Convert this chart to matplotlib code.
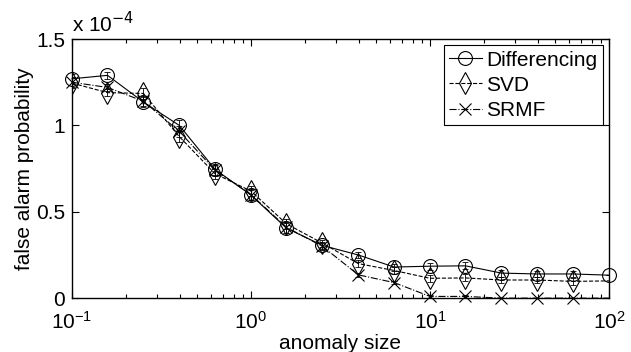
import matplotlib
matplotlib.use("Agg")
import matplotlib.pyplot as plt
from matplotlib.ticker import FixedLocator, FixedFormatter, LogLocator, NullFormatter

plt.rcParams['font.family'] = ['Liberation Sans', 'DejaVu Sans']

# anomaly sizes
x = [0.1, 0.158, 0.251, 0.398, 0.631, 1.0, 1.58, 2.51, 3.98, 6.31,
     10.0, 15.8, 25.1, 39.8, 63.1, 100.0]
# false alarm probability, in units of 1e-4
diff = [1.27, 1.29, 1.135, 1.0, 0.745, 0.597, 0.405, 0.305, 0.25, 0.18,
        0.185, 0.187, 0.145, 0.14, 0.14, 0.133]
svd = [1.245, 1.19, 1.185, 0.935, 0.72, 0.62, 0.43, 0.318, 0.20, 0.16,
       0.115, 0.117, 0.105, 0.105, 0.097, 0.10]
srmf = [1.25, 1.22, 1.14, 0.965, 0.74, 0.60, 0.41, 0.30, 0.135, 0.09,
        0.01, 0.01, 0.0, 0.0, 0.0, 0.0]
err_diff = [0.03, 0.02, 0.03, 0.03, 0.03, 0.03, 0.03, 0.02, 0.02, 0.02,
            0.02, 0.02, 0.02, 0.02, 0.02, 0.0]
err_svd = [0.03, 0.02, 0.03, 0.03, 0.03, 0.03, 0.03, 0.02, 0.02, 0.02,
           0.02, 0.02, 0.02, 0.02, 0.02, 0.0]
err_srmf = [0.03, 0.02, 0.03, 0.03, 0.03, 0.03, 0.03, 0.02, 0.01, 0.01,
            0.01, 0.01, 0.0, 0.0, 0.0, 0.0]

ytick_vals = [0, 0.5, 1, 1.5]
ytick_labels = ['0', '0.5', '1', '1.5']

fig = plt.figure(figsize=(6.31, 3.52), dpi=100)
ax = fig.add_axes([0.114, 0.153, 0.851, 0.736])

lw = 0.8
ax.errorbar(x, diff, yerr=err_diff, fmt='none', ecolor='k', elinewidth=0.6,
            capsize=2.5, capthick=0.6, zorder=2)
ax.errorbar(x[:-1], svd[:-1], yerr=err_svd[:-1], fmt='none', ecolor='k',
            elinewidth=0.6, capsize=2.5, capthick=0.6, zorder=2)
ax.errorbar(x[:-1], srmf[:-1], yerr=err_srmf[:-1], fmt='none', ecolor='k',
            elinewidth=0.6, capsize=2.5, capthick=0.6, zorder=2)

ax.plot(x, diff, color='k', ls='-', lw=lw, marker='o', ms=10,
        mfc='none', mec='k', mew=0.8, label='Differencing', clip_on=False, zorder=3)
ax.plot(x, svd, color='k', ls='--', lw=lw, marker='d', ms=11,
        mfc='none', mec='k', mew=0.8, label='SVD', zorder=3,
        markevery=list(range(len(x) - 1)))
ax.plot(x, srmf, color='k', ls='-.', lw=lw, marker='x', ms=8,
        mfc='none', mec='k', mew=0.8, label='SRMF', zorder=3,
        markevery=list(range(len(x) - 1)), clip_on=False)

ax.set_xscale('log')
ax.set_xlim(0.1, 100)
ax.set_ylim(0, 1.5)
ax.yaxis.set_major_locator(FixedLocator(ytick_vals))
ax.yaxis.set_major_formatter(FixedFormatter(ytick_labels))
ax.xaxis.set_major_locator(LogLocator(base=10, numticks=10))
ax.xaxis.set_minor_locator(LogLocator(base=10, subs=range(2, 10), numticks=10))
ax.xaxis.set_minor_formatter(NullFormatter())

ax.tick_params(which='both', direction='in', top=True, right=True,
               labelsize=15, width=0.8, color='k')
ax.tick_params(which='major', length=5)
ax.tick_params(which='minor', length=3)
ax.tick_params(axis='x', which='major', pad=9)
ax.tick_params(axis='y', which='major', pad=5)
for s in ax.spines.values():
    s.set_linewidth(1.0)

ax.set_xlabel('anomaly size', fontsize=15, labelpad=1)
ax.set_ylabel('false alarm probability', fontsize=15, labelpad=1.5)

ax.text(0.0, 1.012, r'x 10$^{-4}$', transform=ax.transAxes, fontsize=15,
        ha='left', va='bottom')

leg = ax.legend(loc='upper right', fontsize=15, frameon=True, fancybox=False,
                edgecolor='k', framealpha=1, borderaxespad=0.3,
                handlelength=1.6, handletextpad=0.2, borderpad=0.25,
                labelspacing=0.3)
leg.get_frame().set_linewidth(0.8)

fig.savefig('out.png', dpi=100)
